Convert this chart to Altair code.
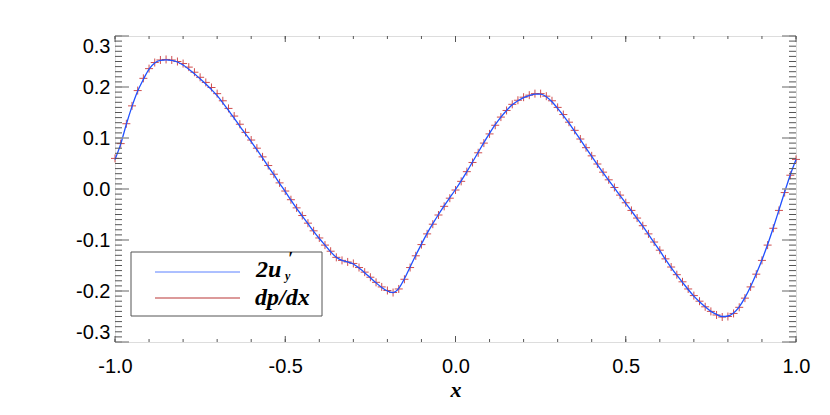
import altair as alt
import pandas as pd

# ---------------- data ----------------
x_vals = [round(-1 + i / 60, 5) for i in range(121)]

u2_y = [
    0.058, 0.088, 0.127, 0.162, 0.192, 0.215, 0.235, 0.247, 0.252, 0.253,
    0.252, 0.249, 0.243, 0.235, 0.226, 0.216, 0.206, 0.195, 0.183, 0.169,
    0.154, 0.139, 0.123, 0.108, 0.093, 0.077, 0.061, 0.044, 0.028, 0.011,
    -0.005, -0.022, -0.038, -0.053, -0.068, -0.083, -0.097, -0.110, -0.123, -0.134,
    -0.140, -0.143, -0.147, -0.155, -0.164, -0.174, -0.184, -0.193, -0.200, -0.203,
    -0.195, -0.176, -0.153, -0.130, -0.108, -0.087, -0.068, -0.050, -0.033, -0.017,
    -0.001, 0.016, 0.034, 0.053, 0.072, 0.091, 0.109, 0.126, 0.141, 0.154,
    0.165, 0.173, 0.179, 0.183, 0.186, 0.186, 0.181, 0.171, 0.158, 0.144,
    0.129, 0.113, 0.097, 0.080, 0.064, 0.048, 0.032, 0.017, 0.002, -0.013,
    -0.028, -0.043, -0.058, -0.073, -0.089, -0.105, -0.121, -0.138, -0.154, -0.169,
    -0.183, -0.197, -0.210, -0.221, -0.231, -0.240, -0.246, -0.250, -0.249, -0.243,
    -0.231, -0.213, -0.191, -0.166, -0.139, -0.109, -0.076, -0.041, -0.006, 0.028,
    0.058,
]

dp_dx = [
    0.060, 0.089, 0.128, 0.163, 0.193, 0.217, 0.236, 0.248, 0.253, 0.254,
    0.253, 0.250, 0.246, 0.239, 0.229, 0.219, 0.209, 0.199, 0.187, 0.173,
    0.158, 0.143, 0.127, 0.111, 0.096, 0.080, 0.063, 0.046, 0.029, 0.012,
    -0.004, -0.021, -0.037, -0.052, -0.067, -0.082, -0.096, -0.110, -0.122, -0.134,
    -0.140, -0.143, -0.146, -0.154, -0.163, -0.173, -0.183, -0.192, -0.199, -0.203,
    -0.196, -0.177, -0.154, -0.131, -0.109, -0.088, -0.069, -0.051, -0.034, -0.018,
    -0.002, 0.015, 0.034, 0.052, 0.071, 0.090, 0.108, 0.125, 0.141, 0.154,
    0.166, 0.174, 0.180, 0.184, 0.187, 0.187, 0.182, 0.173, 0.160, 0.146,
    0.131, 0.115, 0.098, 0.081, 0.065, 0.049, 0.033, 0.018, 0.003, -0.012,
    -0.027, -0.042, -0.057, -0.072, -0.088, -0.104, -0.120, -0.137, -0.153, -0.168,
    -0.182, -0.196, -0.209, -0.220, -0.231, -0.240, -0.247, -0.251, -0.250, -0.244,
    -0.232, -0.214, -0.192, -0.167, -0.140, -0.110, -0.077, -0.042, -0.007, 0.027,
    0.058,
]

x_tick_labels = [-1.0, -0.5, 0.0, 0.5, 1.0]
y_tick_labels = [-0.3, -0.2, -0.1, 0.0, 0.1, 0.2, 0.3]
x_minor = [round(-1 + 0.1 * i, 2) for i in range(21)]
y_minor = [round(-0.3 + 0.01 * i, 2) for i in range(61)]

df = pd.DataFrame({"x": x_vals, "u2": u2_y, "dpdx": dp_dx})

# ---------------- layout ----------------
W, H = 681, 306
xs = alt.Scale(domain=[-1, 1], nice=False, zero=False)
ys = alt.Scale(domain=[-0.3, 0.3], nice=False, zero=False)
lab = "replace(format(datum.value, '.1f'), '\u2212', '-')"

x_axis = alt.Axis(values=x_tick_labels, labelExpr=lab, labelFont="Liberation Sans",
                  labelFontSize=20, labelColor="black", labelPadding=14,
                  labelFlush=False, labelOverlap=False, ticks=False, domain=False,
                  grid=False, title="x", titleFont="Liberation Serif",
                  titleFontStyle="italic", titleFontWeight="bold", titleFontSize=22,
                  titleColor="black", titlePadding=3)
y_axis = alt.Axis(values=y_tick_labels, labelExpr=lab, labelFont="Liberation Sans",
                  labelFontSize=20, labelColor="black", labelPadding=5,
                  labelFlush=True, labelOverlap=False, ticks=False, domain=False,
                  grid=False, title=" ")

def X(field):
    return alt.X(field, scale=xs, axis=x_axis)

def Y(field):
    return alt.Y(field, scale=ys, axis=y_axis)

markers = alt.Chart(df).mark_point(
    shape="M-1,0L1,0M0,-1L0,1", size=64, filled=False,
    stroke="#c83030", strokeWidth=1, opacity=0.85
).encode(x=X("x:Q"), y=Y("dpdx:Q"))

line = alt.Chart(df).mark_line(color="#2050ff", strokeWidth=1.3, interpolate="monotone").encode(
    x=X("x:Q"), y=Y("u2:Q"))

# inward ticks
ymin_df = pd.DataFrame({"v": y_minor})
ymaj_df = pd.DataFrame({"v": y_tick_labels})
xmin_df = pd.DataFrame({"v": x_minor})
xmaj_df = pd.DataFrame({"v": x_tick_labels})

def yticks(d, length, color, sw):
    left = alt.Chart(d).mark_rule(color=color, strokeWidth=sw).encode(
        y=Y("v:Q"), x=alt.value(0), x2=alt.value(length))
    right = alt.Chart(d).mark_rule(color=color, strokeWidth=sw).encode(
        y=Y("v:Q"), x=alt.value(W - length), x2=alt.value(W))
    return [left, right]

def xticks(d, length, color, sw):
    bot = alt.Chart(d).mark_rule(color=color, strokeWidth=sw).encode(
        x=X("v:Q"), y=alt.value(H), y2=alt.value(H - length))
    top = alt.Chart(d).mark_rule(color=color, strokeWidth=sw).encode(
        x=X("v:Q"), y=alt.value(0), y2=alt.value(length))
    return [bot, top]

tick_layers = (yticks(ymin_df, 7, "#555555", 1) + yticks(ymaj_df, 14, "#999999", 1.5)
               + xticks(xmin_df, 3, "#555555", 1) + xticks(xmaj_df, 6, "#555555", 1))

# legend
one = pd.DataFrame({"a": [0]})
leg_box = alt.Chart(one).mark_rect(fill="white", stroke="#555555", strokeWidth=1).encode(
    x=alt.value(16), x2=alt.value(207), y=alt.value(216), y2=alt.value(280))
leg_blue = alt.Chart(one).mark_rule(color="#5a80ff", strokeWidth=1).encode(
    x=alt.value(40), x2=alt.value(125), y=alt.value(236))
leg_red = alt.Chart(one).mark_rule(color="#d07878", strokeWidth=1.5).encode(
    x=alt.value(40), x2=alt.value(125), y=alt.value(262))
tfont = dict(font="Liberation Serif", fontStyle="italic", fontWeight="bold",
             color="black", align="left", baseline="alphabetic")
t1 = alt.Chart(one).mark_text(text="2u", fontSize=24, **tfont).encode(
    x=alt.value(141), y=alt.value(241))
t1p = alt.Chart(one).mark_text(text="\u2032", fontSize=18, **tfont).encode(
    x=alt.value(173), y=alt.value(229))
t1s = alt.Chart(one).mark_text(text="y", fontSize=12, **tfont).encode(
    x=alt.value(170), y=alt.value(244))
t2 = alt.Chart(one).mark_text(text="dp/dx", fontSize=24, **tfont).encode(
    x=alt.value(140), y=alt.value(269))

chart = alt.layer(
    markers, line, *tick_layers, leg_box, leg_blue, leg_red, t1, t1p, t1s, t2
).properties(
    width=W, height=H,
    padding={"left": 107, "top": 28, "right": 20, "bottom": 60},
    autosize=alt.AutoSizeParams(type="none"),
).configure_view(stroke="#444444", strokeWidth=1).configure(background="white")

chart.save("out.html", embed_options={"renderer": "svg", "actions": False})
